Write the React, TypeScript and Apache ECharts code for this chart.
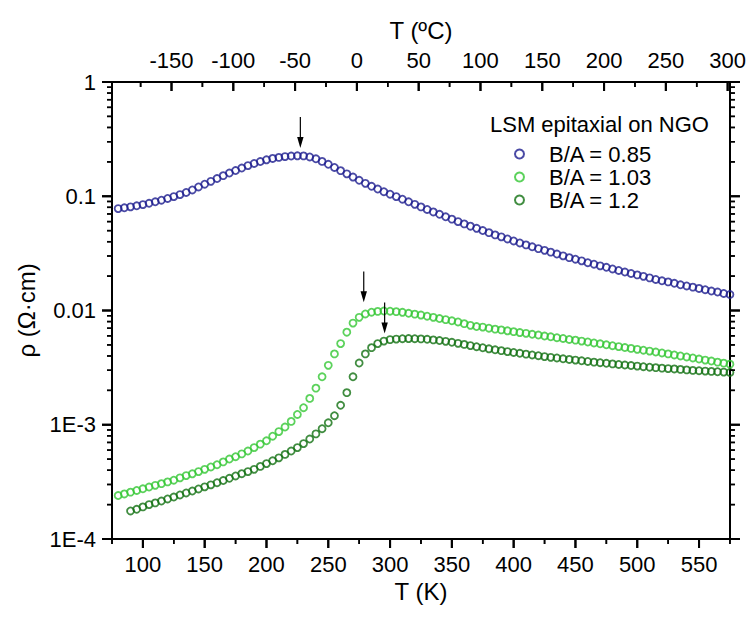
import React, { useEffect, useRef } from "react";
import * as echarts from "echarts";

// Temperature (K) of each measured point
const T_BLUE = [80,85,90,95,100,105,110,115,120,125,130,135,140,145,150,155,160,165,170,175,180,185,190,195,200,205,210,215,220,225,230,235,240,245,250,255,260,265,270,275,280,285,290,295,300,305,310,315,320,325,330,335,340,345,350,355,360,365,370,375,380,385,390,395,400,405,410,415,420,425,430,435,440,445,450,455,460,465,470,475,480,485,490,495,500,505,510,515,520,525,530,535,540,545,550,555,560,565,570,575];
const RHO_BLUE = [0.078,0.0793,0.0808,0.0825,0.0845,0.0868,0.0894,0.0923,0.0956,0.0993,0.1034,0.1079,0.1135,0.1205,0.1275,0.135,0.143,0.1514,0.1596,0.1679,0.1766,0.1854,0.1936,0.2014,0.2084,0.2143,0.2188,0.2223,0.2249,0.2259,0.2254,0.2208,0.2128,0.2018,0.1905,0.1786,0.1675,0.157,0.1472,0.138,0.1297,0.1222,0.1156,0.1096,0.1042,0.0993,0.0942,0.0895,0.0849,0.0807,0.0766,0.0729,0.0695,0.0661,0.063,0.06,0.0573,0.0547,0.0524,0.0501,0.048,0.0459,0.0441,0.0423,0.0406,0.039,0.0375,0.0361,0.0348,0.0336,0.0324,0.0312,0.0301,0.029,0.0281,0.0272,0.0262,0.0254,0.0246,0.0239,0.0231,0.0224,0.0217,0.0211,0.0205,0.0199,0.0193,0.0187,0.0182,0.0178,0.0173,0.0168,0.0164,0.016,0.0156,0.0152,0.0148,0.0145,0.0141,0.0138];

const T_LIGHT = [80,85,90,95,100,105,110,115,120,125,130,135,140,145,150,155,160,165,170,175,180,185,190,195,200,205,210,215,220,225,230,235,240,245,250,255,260,265,270,275,280,285,290,295,300,305,310,315,320,325,330,335,340,345,350,355,360,365,370,375,380,385,390,395,400,405,410,415,420,425,430,435,440,445,450,455,460,465,470,475,480,485,490,495,500,505,510,515,520,525,530,535,540,545,550,555,560,565,570,575];
const RHO_LIGHT = [2.4e-4,2.48e-4,2.57e-4,2.66e-4,2.75e-4,2.85e-4,2.95e-4,3.05e-4,3.16e-4,3.27e-4,3.43e-4,3.59e-4,3.72e-4,3.89e-4,4.07e-4,4.27e-4,4.47e-4,4.73e-4,5.01e-4,5.25e-4,5.56e-4,5.89e-4,6.31e-4,6.76e-4,7.24e-4,7.94e-4,8.71e-4,9.55e-4,1.07e-3,1.23e-3,1.41e-3,1.7e-3,2.09e-3,2.63e-3,3.31e-3,4.17e-3,5.13e-3,6.46e-3,7.76e-3,8.71e-3,9.33e-3,9.66e-3,9.82e-3,9.89e-3,9.86e-3,9.77e-3,9.64e-3,9.46e-3,9.29e-3,9.12e-3,8.91e-3,8.71e-3,8.51e-3,8.32e-3,8.13e-3,7.94e-3,7.67e-3,7.41e-3,7.24e-3,7.16e-3,7.0e-3,6.87e-3,6.76e-3,6.64e-3,6.53e-3,6.41e-3,6.31e-3,6.19e-3,6.1e-3,5.98e-3,5.89e-3,5.78e-3,5.69e-3,5.58e-3,5.5e-3,5.4e-3,5.3e-3,5.2e-3,5.11e-3,5.01e-3,4.92e-3,4.83e-3,4.74e-3,4.66e-3,4.57e-3,4.49e-3,4.41e-3,4.33e-3,4.25e-3,4.17e-3,4.08e-3,4.0e-3,3.92e-3,3.84e-3,3.76e-3,3.68e-3,3.61e-3,3.53e-3,3.46e-3,3.39e-3];

const T_DARK = [90,95,100,105,110,115,120,125,130,135,140,145,150,155,160,165,170,175,180,185,190,195,200,205,210,215,220,225,230,235,240,245,250,255,260,265,270,275,280,285,290,295,300,305,310,315,320,325,330,335,340,345,350,355,360,365,370,375,380,385,390,395,400,405,410,415,420,425,430,435,440,445,450,455,460,465,470,475,480,485,490,495,500,505,510,515,520,525,530,535,540,545,550,555,560,565,570,575];
const RHO_DARK = [1.76e-4,1.82e-4,1.91e-4,2.0e-4,2.07e-4,2.15e-4,2.24e-4,2.33e-4,2.43e-4,2.53e-4,2.63e-4,2.74e-4,2.86e-4,2.98e-4,3.11e-4,3.25e-4,3.4e-4,3.56e-4,3.73e-4,3.89e-4,4.07e-4,4.32e-4,4.57e-4,4.84e-4,5.13e-4,5.5e-4,5.89e-4,6.31e-4,6.84e-4,7.5e-4,8.32e-4,9.23e-4,1.04e-3,1.2e-3,1.48e-3,1.91e-3,2.63e-3,3.47e-3,4.17e-3,4.73e-3,5.13e-3,5.4e-3,5.56e-3,5.62e-3,5.66e-3,5.68e-3,5.66e-3,5.64e-3,5.6e-3,5.53e-3,5.46e-3,5.37e-3,5.27e-3,5.16e-3,5.05e-3,4.93e-3,4.82e-3,4.72e-3,4.62e-3,4.53e-3,4.45e-3,4.37e-3,4.29e-3,4.22e-3,4.15e-3,4.08e-3,4.02e-3,3.95e-3,3.89e-3,3.84e-3,3.78e-3,3.73e-3,3.68e-3,3.63e-3,3.58e-3,3.53e-3,3.49e-3,3.45e-3,3.41e-3,3.37e-3,3.33e-3,3.3e-3,3.26e-3,3.22e-3,3.19e-3,3.16e-3,3.13e-3,3.1e-3,3.08e-3,3.05e-3,3.02e-3,2.99e-3,2.97e-3,2.95e-3,2.93e-3,2.91e-3,2.89e-3,2.87e-3];

const SERIES_NAMES = ["B/A = 0.85", "B/A = 1.03", "B/A = 1.2"];
const LEGEND_TITLE = "LSM epitaxial on NGO";

// Axis ranges and ticks
const K_MIN = 75;
const K_MAX = 575;
const RHO_MIN = 1e-4;
const RHO_MAX = 1;
const K_MAJOR = [100, 150, 200, 250, 300, 350, 400, 450, 500, 550];
const K_MINOR = [75, 125, 175, 225, 275, 325, 375, 425, 475, 525, 575];
const C_MAJOR = [-150, -100, -50, 0, 50, 100, 150, 200, 250, 300];
const C_MINOR = [-175, -125, -75, -25, 25, 75, 125, 175, 225, 275];
const Y_MAJOR = [1e-4, 1e-3, 1e-2, 1e-1, 1];
const Y_LABELS = ["1E-4", "1E-3", "0.01", "0.1", "1"];
const MINOR_MULT = [2, 3, 4, 5, 6, 7, 8, 9];
const DECADES = [1e-4, 1e-3, 1e-2, 1e-1];

// Peak arrows: [T (K), rho at arrow start, rho at arrow tip]
const ARROWS: [number, number, number][] = [
  [227.4, 0.494, 0.265],
  [278.7, 0.0219, 0.0118],
  [295.6, 0.01175, 0.0063],
];

const COLORS = ["#1d1d8f", "#33c733", "#127012"];
const FONT = "Liberation Sans, Arial, sans-serif";

type TickSpec = { side: "bottom" | "top" | "left" | "right"; v: number; len: number; w: number };

export default function App() {
  const ref = useRef<HTMLDivElement>(null);

  useEffect(() => {
    if (!ref.current) return;
    const chart = echarts.init(ref.current, undefined, { renderer: "svg" });
    const ZERO_C = 273.15;

    const tickSpecs: TickSpec[] = [];
    K_MAJOR.forEach((v) => tickSpecs.push({ side: "bottom", v, len: 9, w: 2 }));
    K_MINOR.forEach((v) => tickSpecs.push({ side: "bottom", v, len: 5, w: 1.6 }));
    C_MAJOR.forEach((c) => tickSpecs.push({ side: "top", v: c + ZERO_C, len: 9, w: 2 }));
    C_MINOR.forEach((c) => tickSpecs.push({ side: "top", v: c + ZERO_C, len: 5, w: 1.6 }));
    (["left", "right"] as const).forEach((side) => {
      Y_MAJOR.forEach((v) => tickSpecs.push({ side, v, len: 10, w: 2 }));
      DECADES.forEach((d) => MINOR_MULT.forEach((m) => tickSpecs.push({ side, v: d * m, len: 5, w: 1.5 })));
    });

    // rectangle for a tick given a pixel converter
    const tickRect = (t: TickSpec, toPx: (p: number[]) => number[]) => {
      if (t.side === "bottom" || t.side === "top") {
        const p = toPx([t.v, t.side === "bottom" ? RHO_MIN : RHO_MAX]);
        return { x: p[0] - t.w / 2, y: p[1], width: t.w, height: t.len };
      }
      const p = toPx([t.side === "left" ? K_MIN : K_MAX, t.v]);
      return { x: t.side === "left" ? p[0] - t.len : p[0], y: p[1] - t.w / 2, width: t.len, height: t.w };
    };

    const axisLineStyle = { color: "#000", width: 2 };
    const labelStyle = { color: "#000", fontSize: 22, fontFamily: FONT };
    const nameStyle = { color: "#000", fontSize: 24, fontFamily: FONT };

    const mk = (t: number[], r: number[]) => t.map((x, i) => [x, r[i]]);
    const datasets = [mk(T_BLUE, RHO_BLUE), mk(T_LIGHT, RHO_LIGHT), mk(T_DARK, RHO_DARK)];

    const series: any[] = datasets.map((d, i) => ({
      type: "scatter",
      name: SERIES_NAMES[i],
      data: d,
      symbol: "circle",
      symbolSize: 7,
      itemStyle: { color: "rgba(255,255,255,0)", borderColor: COLORS[i], borderWidth: 1.8 },
      emphasis: { disabled: true },
      z: 3 - i,
    }));

    series.push({
      type: "custom",
      name: "peak arrows",
      silent: true,
      clip: false,
      z: 6,
      data: ARROWS.map(([t, a]) => [t, a]),
      renderItem: (params: any, api: any) => {
        const [t, a, b] = ARROWS[params.dataIndex];
        const p1 = api.coord([t, a]);
        const p2 = api.coord([t, b]);
        const head = 11;
        const half = 3.2;
        const children: any[] = [
          { type: "line", shape: { x1: p1[0], y1: p1[1], x2: p2[0], y2: p2[1] - head + 1 }, style: { stroke: "#000", lineWidth: 1.2 } },
          { type: "polygon", shape: { points: [[p2[0], p2[1]], [p2[0] - half, p2[1] - head], [p2[0] + half, p2[1] - head]] }, style: { fill: "#000" } },
        ];
        if (params.dataIndex === 0) {
          tickSpecs.forEach((ts) => {
            children.push({ type: "rect", shape: tickRect(ts, (p) => api.coord(p)), style: { fill: "#000" } });
          });
        }
        return { type: "group", children };
      },
    });

    const titleGraphic = {
      type: "text",
      id: "legend-title",
      left: 490,
      top: 113,
      style: { text: LEGEND_TITLE, fontSize: 22, fontFamily: FONT, fill: "#000" },
    };

    chart.setOption({
      animation: false,
      backgroundColor: "#fff",
      textStyle: { fontFamily: FONT },
      grid: { left: 112, right: 16, top: 82, bottom: 78, containLabel: false },
      legend: {
        data: SERIES_NAMES,
        orient: "vertical",
        left: 509,
        top: 138,
        itemWidth: 9,
        itemHeight: 9,
        itemGap: 1,
        selectedMode: false,
        textStyle: { color: "#000", fontSize: 22, fontFamily: FONT, padding: [0, 0, 0, 20], lineHeight: 22 },
      },
      graphic: [titleGraphic],
      xAxis: [
        {
          type: "value", min: K_MIN, max: K_MAX, position: "bottom",
          name: "T (K)", nameLocation: "middle", nameGap: 38, nameTextStyle: nameStyle,
          axisLine: { show: true, onZero: false, lineStyle: axisLineStyle },
          axisTick: { show: false },
          axisLabel: { ...labelStyle, margin: 14, customValues: K_MAJOR },
          splitLine: { show: false },
        },
        {
          type: "value", min: K_MIN, max: K_MAX, position: "top",
          name: "T (ºC)", nameLocation: "middle", nameGap: 40, nameTextStyle: nameStyle,
          axisLine: { show: true, onZero: false, lineStyle: axisLineStyle },
          axisTick: { show: false },
          axisLabel: { ...labelStyle, margin: 11, customValues: C_MAJOR.map((c) => c + ZERO_C), formatter: (v: number) => String(Math.round(v - ZERO_C)) },
          splitLine: { show: false },
        },
      ],
      yAxis: [
        {
          type: "log", logBase: 10, min: RHO_MIN, max: RHO_MAX, position: "left",
          name: "ρ (Ω·cm)", nameLocation: "middle", nameGap: 68, nameTextStyle: nameStyle,
          axisLine: { show: true, onZero: false, lineStyle: axisLineStyle },
          axisTick: { show: false },
          axisLabel: { ...labelStyle, margin: 16, formatter: (v: number) => Y_LABELS[Math.round(Math.log10(v)) + 4] ?? "" },
          splitLine: { show: false },
        },
        {
          type: "log", logBase: 10, min: RHO_MIN, max: RHO_MAX, position: "right",
          axisLine: { show: true, onZero: false, lineStyle: axisLineStyle },
          axisTick: { show: false },
          axisLabel: { show: false },
          splitLine: { show: false },
        },
      ],
      series,
    });

    // Second route for the same ticks: graphic rectangles placed with convertToPixel
    const toPx = (p: number[]) => chart.convertToPixel({ xAxisIndex: 0, yAxisIndex: 0 }, p) as number[];
    const rects = tickSpecs.map((ts, i) => ({
      type: "rect",
      id: "axis-tick-" + i,
      z: 200,
      shape: tickRect(ts, toPx),
      style: { fill: "#000" },
    }));
    chart.setOption({ graphic: [titleGraphic, ...rects] });

    return () => chart.dispose();
  }, []);

  return <div ref={ref} style={{ position: "fixed", left: 0, top: 0, width: 749, height: 617, background: "#fff" }} />;
}
